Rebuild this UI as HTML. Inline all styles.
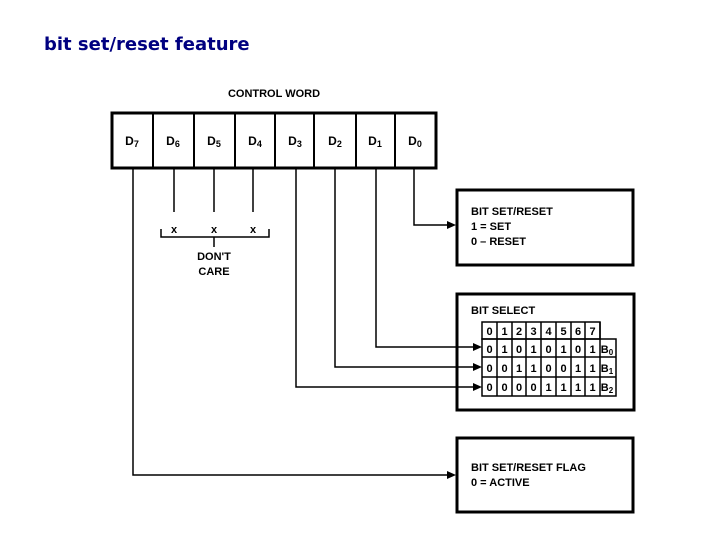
<!DOCTYPE html><html><head><style>
body{margin:0;width:720px;height:540px;background:#fff;overflow:hidden}
</style></head><body>
<svg width="720" height="540" xmlns="http://www.w3.org/2000/svg" font-family="Liberation Sans, sans-serif" font-weight="bold">
<text x="44" y="50" font-family="DejaVu Sans, sans-serif" font-size="18" fill="#000080">bit set/reset feature</text>
<text x="274" y="97" font-size="11" text-anchor="middle">CONTROL WORD</text>
<g stroke="#000" fill="none">
<rect x="112" y="113" width="324" height="55" stroke-width="3"/>
<g stroke-width="2"><line x1="153" y1="113" x2="153" y2="168"/><line x1="194" y1="113" x2="194" y2="168"/><line x1="235" y1="113" x2="235" y2="168"/><line x1="275" y1="113" x2="275" y2="168"/><line x1="314" y1="113" x2="314" y2="168"/><line x1="356" y1="113" x2="356" y2="168"/><line x1="395" y1="113" x2="395" y2="168"/></g>
<g stroke-width="1.5">
<polyline points="133,168 133,475 450,475"/>
<line x1="174" y1="168" x2="174" y2="212"/><line x1="214" y1="168" x2="214" y2="212"/><line x1="253" y1="168" x2="253" y2="212"/>
<polyline points="161,229 161,237 269,237 269,229"/><line x1="214" y1="237" x2="214" y2="247"/>
<polyline points="296,168 296,387 476,387"/>
<polyline points="335,168 335,367 476,367"/>
<polyline points="376,168 376,347 476,347"/>
<polyline points="414,168 414,225 450,225"/>
</g>
<rect x="457" y="190" width="176" height="75" stroke-width="3"/>
<rect x="457" y="294" width="177" height="116" stroke-width="3"/>
<rect x="457" y="438" width="176" height="74" stroke-width="3"/>
<g stroke-width="1.5">
<rect x="482" y="322" width="118" height="17"/>
<rect x="482" y="339" width="134" height="57"/>
<line x1="482" y1="357" x2="616" y2="357"/><line x1="482" y1="377" x2="616" y2="377"/>
<line x1="497" y1="322" x2="497" y2="396"/><line x1="512" y1="322" x2="512" y2="396"/><line x1="526" y1="322" x2="526" y2="396"/><line x1="541" y1="322" x2="541" y2="396"/><line x1="556" y1="322" x2="556" y2="396"/><line x1="571" y1="322" x2="571" y2="396"/><line x1="585" y1="322" x2="585" y2="396"/><line x1="600" y1="322" x2="600" y2="396"/>
</g>
</g>
<g fill="#000">
<polygon points="456,225 447,221 447,229"/><polygon points="456,475 447,471 447,479"/>
<polygon points="482,347 473,343 473,351"/><polygon points="482,367 473,363 473,371"/><polygon points="482,387 473,383 473,391"/>
</g>
<g font-size="12" text-anchor="middle">
<text x="132" y="145">D<tspan font-size="9" dy="2">7</tspan></text><text x="173" y="145">D<tspan font-size="9" dy="2">6</tspan></text><text x="214" y="145">D<tspan font-size="9" dy="2">5</tspan></text><text x="255" y="145">D<tspan font-size="9" dy="2">4</tspan></text><text x="295" y="145">D<tspan font-size="9" dy="2">3</tspan></text><text x="335" y="145">D<tspan font-size="9" dy="2">2</tspan></text><text x="375" y="145">D<tspan font-size="9" dy="2">1</tspan></text><text x="415" y="145">D<tspan font-size="9" dy="2">0</tspan></text>
</g>
<g font-size="11" text-anchor="middle">
<text x="174" y="233">x</text><text x="214" y="233">x</text><text x="253" y="233">x</text>
<text x="214" y="260">DON'T</text><text x="214" y="275">CARE</text>
</g>
<g font-size="11">
<text x="471" y="215">BIT SET/RESET</text><text x="471" y="230">1 = SET</text><text x="471" y="245">0 – RESET</text>
<text x="471" y="314">BIT SELECT</text>
<text x="471" y="471">BIT SET/RESET FLAG</text><text x="471" y="486">0 = ACTIVE</text>
</g>
<g font-size="11" text-anchor="middle">
<text x="489.5" y="335">0</text><text x="504.5" y="335">1</text><text x="519" y="335">2</text><text x="533.5" y="335">3</text><text x="548.5" y="335">4</text><text x="563.5" y="335">5</text><text x="578" y="335">6</text><text x="592.5" y="335">7</text>
<text x="489.5" y="353">0</text><text x="504.5" y="353">1</text><text x="519" y="353">0</text><text x="533.5" y="353">1</text><text x="548.5" y="353">0</text><text x="563.5" y="353">1</text><text x="578" y="353">0</text><text x="592.5" y="353">1</text><text x="607" y="353">B<tspan font-size="8" dy="2">0</tspan></text>
<text x="489.5" y="372">0</text><text x="504.5" y="372">0</text><text x="519" y="372">1</text><text x="533.5" y="372">1</text><text x="548.5" y="372">0</text><text x="563.5" y="372">0</text><text x="578" y="372">1</text><text x="592.5" y="372">1</text><text x="607" y="372">B<tspan font-size="8" dy="2">1</tspan></text>
<text x="489.5" y="391">0</text><text x="504.5" y="391">0</text><text x="519" y="391">0</text><text x="533.5" y="391">0</text><text x="548.5" y="391">1</text><text x="563.5" y="391">1</text><text x="578" y="391">1</text><text x="592.5" y="391">1</text><text x="607" y="391">B<tspan font-size="8" dy="2">2</tspan></text>
</g>
</svg>
</body></html>
